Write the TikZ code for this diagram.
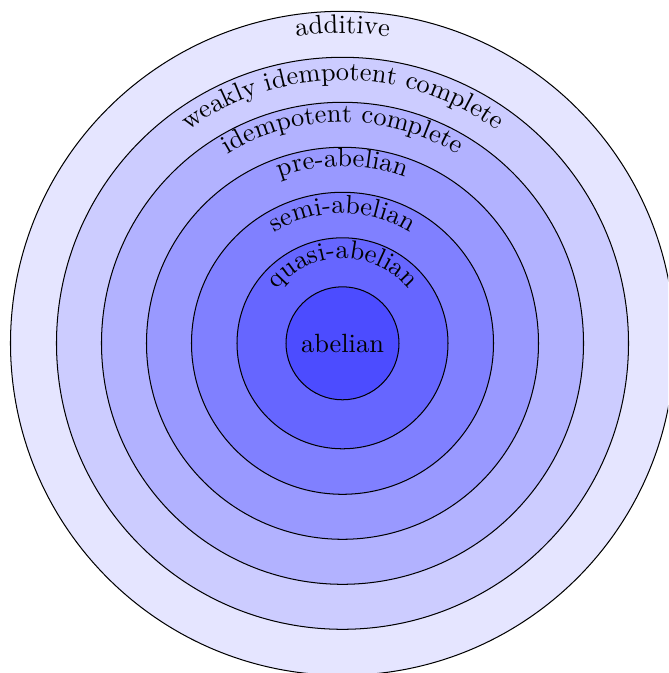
\documentclass[tikz,border=0pt]{standalone}
\usetikzlibrary{decorations.text}
\begin{document}
\fontsize{10.35}{12.4}\selectfont
\begin{tikzpicture}[x=0.3922pt,y=0.3922pt,
  ring/.style={draw=black,line width=0.4pt},
  arclabel/.style={decorate,decoration={text along path,text align=center,text={#1}}}]
\useasboundingbox (-342.5,-329.7) rectangle (325.5,343.3);
\clip (-342.5,-329.7) rectangle (325.5,343.3);
\coordinate (c) at (0,0);
\fill[blue!10,ring] (c) circle[radius=332];
\fill[blue!20,ring] (c) circle[radius=286];
\fill[blue!30,ring] (c) circle[radius=241];
\fill[blue!40,ring] (c) circle[radius=196];
\fill[blue!50,ring] (c) circle[radius=151];
\fill[blue!60,ring] (c) circle[radius=105.5];
\fill[blue!70,ring] (c) circle[radius=56.5];
\node (abelian) at (c) {abelian};
\path[arclabel={additive}] (180:310) arc[start angle=180,end angle=0,radius=310];
\path[arclabel={weakly idempotent complete}] (180:263) arc[start angle=180,end angle=0,radius=263];
\path[arclabel={idempotent complete}] (180:221) arc[start angle=180,end angle=0,radius=221];
\path[arclabel={pre-abelian}] (180:177) arc[start angle=180,end angle=0,radius=177];
\path[arclabel={semi-abelian}] (180:130) arc[start angle=180,end angle=0,radius=130];
\path[arclabel={quasi-abelian}] (180:85) arc[start angle=180,end angle=0,radius=85];
\end{tikzpicture}
\end{document}
